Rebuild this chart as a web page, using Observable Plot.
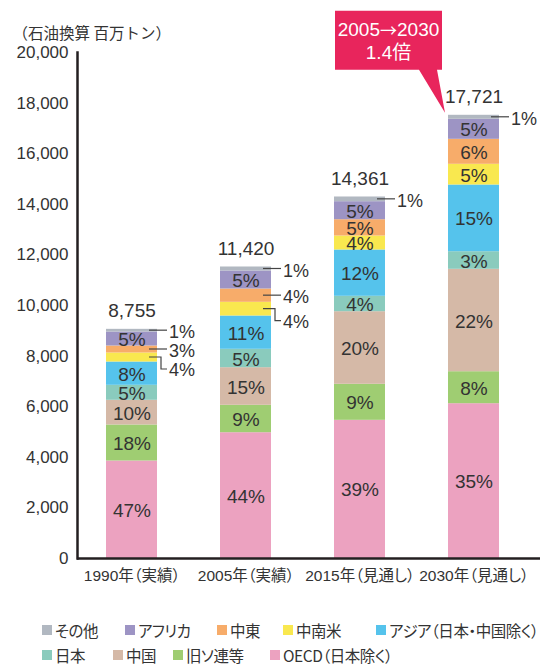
<!DOCTYPE html>
<html><head><meta charset="utf-8">
<script src="https://cdn.jsdelivr.net/npm/d3@7"></script>
<script src="https://cdn.jsdelivr.net/npm/@observablehq/plot@0.6"></script>
<style>
body{margin:0;background:#fff;}
#wrap{position:relative;width:540px;height:667px;overflow:hidden;background:#fff;}
#legend{position:absolute;left:0;top:600px;width:540px;height:67px;font-family:"Noto Sans CJK JP",sans-serif;font-size:15.5px;letter-spacing:-0.45px;color:#333;font-feature-settings:"palt";}
.item{position:absolute;display:flex;align-items:center;white-space:nowrap;line-height:20px;height:20px;}
.sw{display:inline-block;width:10px;height:10px;margin-right:3px;}
</style></head><body><div id="wrap"></div>
<script>
// ---- data ----
const categories = ["1990年（実績）", "2005年（実績）", "2015年（見通し）", "2030年（見通し）"];
const seriesNames = ["OECD（日本除く）", "旧ソ連等", "中国", "日本", "アジア（日本・中国除く）", "中南米", "中東", "アフリカ", "その他"]; // bottom -> top
const seriesColors = ["#eca2c0", "#9fcd72", "#d5b9a7", "#8acbbd", "#55c3ec", "#f9e84f", "#f7ac6a", "#9d94c4", "#b1b8c1"];

const oecd    = [3854, 4972, 5462, 6119];
const fsu     = [1423, 1083, 1423, 1264];
const china   = [976, 1487, 2870, 4048];
const japan   = [593, 727, 609, 695];
const asia    = [921, 1316, 1830, 2637];
const latam   = [356, 541, 553, 818];
const mideast = [276, 526, 644, 988];
const africa  = [553, 712, 712, 791];
const other   = [106, 158, 186, 158];

const oecdPct    = [47, 44, 39, 35];
const fsuPct     = [18, 9, 9, 8];
const chinaPct   = [10, 15, 20, 22];
const japanPct   = [5, 5, 4, 3];
const asiaPct    = [8, 11, 12, 15];
const latamPct   = [4, 4, 4, 5];
const mideastPct = [3, 4, 5, 6];
const africaPct  = [5, 5, 5, 5];
const otherPct   = [1, 1, 1, 1];

const totals = [8755, 11420, 14361, 17721];
const yTicks = [0, 2000, 4000, 6000, 8000, 10000, 12000, 14000, 16000, 18000, 20000];
const yTitle = "（石油換算 百万トン）";
const calloutFrom = "2005", calloutArrow = "→", calloutTo = "2030", calloutRatio = "1.4倍";

// labels drawn outside the bar: [series, category index, elbow]
const outsideLabels = [
  ["その他", 0, false], ["中東", 0, false], ["中南米", 0, true],
  ["その他", 1, false], ["中東", 1, false], ["中南米", 1, true],
  ["その他", 2, false], ["その他", 3, false]
];

// ---- build table ----
const values = [oecd, fsu, china, japan, asia, latam, mideast, africa, other];
const pcts = [oecdPct, fsuPct, chinaPct, japanPct, asiaPct, latamPct, mideastPct, africaPct, otherPct];
const rows = [];
const stackTop = [];
categories.forEach((cat, i) => {
  let cum = 0;
  seriesNames.forEach((s, k) => {
    const v = values[k][i];
    const o = outsideLabels.find(d => d[0] === s && d[1] === i);
    rows.push({cat, series: s, value: v, y1: cum, y2: cum + v, mid: cum + v / 2,
      label: pcts[k][i] + "%", outside: !!o, elbow: o ? o[2] : false});
    cum += v;
  });
  stackTop.push(cum);
});
const totalRows = categories.map((cat, i) => ({cat, top: stackTop[i], label: d3.format(",")(totals[i])}));

const ink = "#333";
const numFont = "'Liberation Sans', Arial, 'Noto Sans CJK JP', sans-serif";

function bandwidthOf(scales) {
  let bw = scales.x && scales.x.bandwidth;
  if (typeof bw === "function") bw = bw();
  if (!(bw > 0) && scales.scales && scales.scales.x) {
    bw = scales.scales.x.bandwidth;
    if (typeof bw === "function") bw = bw();
  }
  if (!(bw > 0)) {
    const a = scales.x(categories[0]), b = scales.x(categories[1]);
    bw = (b - a) * (1 - 0.557);
  }
  return bw;
}

function leaders(index, scales) {
  const g = d3.create("svg:g").attr("fill", "none").attr("stroke", "#444").attr("stroke-width", 1.2);
  const bw = bandwidthOf(scales);
  for (const r of rows.filter(d => d.outside)) {
    const right = scales.x(r.cat) + bw;
    const y = scales.y(r.mid);
    const p = r.elbow
      ? `M${right - 8},${y}H${right + 4}V${y + 12}H${right + 10}`
      : `M${right - 8},${y}H${right + 10}`;
    g.append("path").attr("d", p);
  }
  return g.node();
}

function callout(index, scales) {
  const last = totalRows[totalRows.length - 1];
  const tx = scales.x(last.cat) - 3;
  const ty = scales.y(last.top) - 2;
  const g = d3.create("svg:g");
  const bx0 = tx - 110, bx1 = tx - 3, by0 = ty - 102, by1 = ty - 43;
  g.append("path")
    .attr("d", `M${bx0},${by0}H${bx1}V${by1}H${tx - 8}L${tx},${ty}L${tx - 26},${by1}H${bx0}Z`)
    .attr("fill", "#e8255c");
  const cx = (bx0 + bx1) / 2;
  const t1 = g.append("text").attr("x", cx).attr("y", by0 + 18)
    .attr("text-anchor", "middle").attr("dominant-baseline", "central")
    .attr("fill", "white").attr("font-size", 19).attr("font-family", numFont);
  t1.append("tspan").text(calloutFrom);
  t1.append("tspan").attr("font-family", "'Noto Sans CJK JP', sans-serif").attr("font-size", 17).text(calloutArrow);
  t1.append("tspan").text(calloutTo);
  g.append("text").attr("x", cx).attr("y", by0 + 42)
    .attr("text-anchor", "middle").attr("dominant-baseline", "central")
    .attr("fill", "white").attr("font-size", 19).attr("font-family", numFont)
    .text(calloutRatio);
  return g.node();
}

const chart = Plot.plot({
  width: 540, height: 600,
  marginLeft: 77, marginRight: 0, marginTop: 52, marginBottom: 42,
  x: {domain: categories, range: [71.3, 532.6], paddingInner: 0.557, paddingOuter: 0.3, axis: null},
  y: {domain: [0, 20000], axis: null},
  color: {domain: seriesNames, range: seriesColors},
  style: {fontFamily: numFont, color: ink, background: "white", overflow: "visible"},
  marks: [
    Plot.barY(rows, {x: "cat", y1: "y1", y2: "y2", fill: "series"}),
    Plot.text(rows, {x: "cat", y: "mid", text: d => d.outside ? "" : d.label, fontSize: 19, fill: ink, dy: 1}),
    Plot.text(totalRows, {x: "cat", y: "top", text: "label", fontSize: 19, fill: ink, dy: -18}),
    leaders,
    Plot.text(rows.filter(d => d.outside && !d.elbow), {x: "cat", y: "mid", text: "label", fontSize: 18, fill: ink, textAnchor: "start", dx: 37, dy: 2}),
    Plot.text(rows.filter(d => d.outside && d.elbow), {x: "cat", y: "mid", text: "label", fontSize: 18, fill: ink, textAnchor: "start", dx: 37, dy: 13}),
    Plot.axisY({ticks: yTicks, tickFormat: d3.format(","), tickSize: 0, tickPadding: 9, fontSize: 17, label: null, fill: ink}),
    Plot.axisX({tickSize: 0, tickPadding: 11, fontSize: 15.5, label: null, fill: ink}),
    Plot.frame({anchor: "left", stroke: "#231f20", strokeWidth: 2.5}),
    Plot.ruleY([0], {stroke: "#231f20", strokeWidth: 2.5}),
    Plot.text([yTitle], {frameAnchor: "top-left", dx: -65, dy: -25, textAnchor: "start", fontSize: 15.5, fontFamily: "'Noto Sans CJK JP', sans-serif", fill: ink}),
    callout
  ]
});

const wrap = document.getElementById("wrap");
wrap.appendChild(chart);
d3.select(chart).selectAll("[aria-label='x-axis tick label'] text").style("font-feature-settings", "'palt'");

// legend
const legend = document.createElement("div");
legend.id = "legend";
const order = seriesNames.slice().reverse();
const lefts = [[42, 125, 217, 283, 376], [42, 113, 173, 270]];
const tops = [20, 45];
order.forEach((s, j) => {
  const row = j < 5 ? 0 : 1;
  const col = j < 5 ? j : j - 5;
  const it = document.createElement("div");
  it.className = "item";
  it.style.left = lefts[row][col] + "px";
  it.style.top = tops[row] + "px";
  const sw = document.createElement("span");
  sw.className = "sw";
  sw.style.background = seriesColors[seriesNames.indexOf(s)];
  it.appendChild(sw);
  it.appendChild(document.createTextNode(s));
  legend.appendChild(it);
});
wrap.appendChild(legend);
</script>
</body></html>
